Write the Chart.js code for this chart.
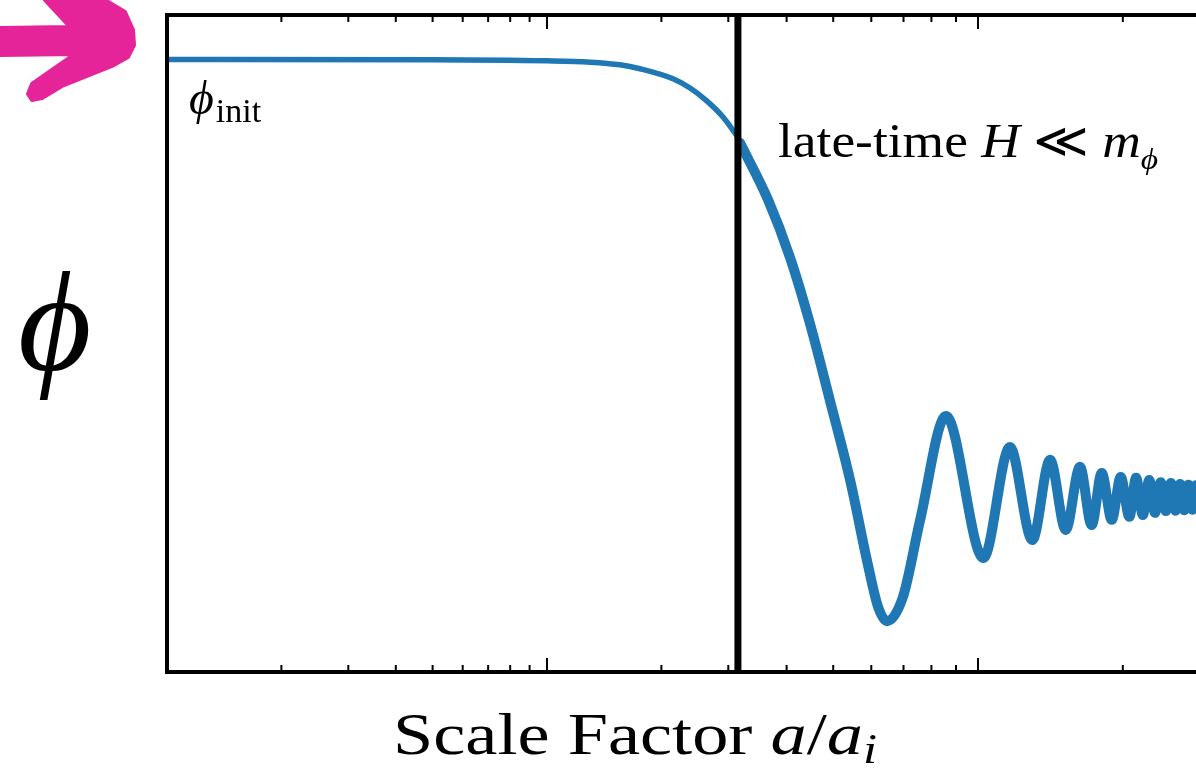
<!DOCTYPE html>
<html>
<head>
<meta charset="utf-8">
<title>Campo escalar vs factor de escala</title>
<script src="https://cdn.jsdelivr.net/npm/chart.js@4.4.1/dist/chart.umd.min.js"></script>
<style>
  html, body { margin: 0; padding: 0; background: #fff; overflow: hidden; }
  #wrap { position: relative; width: 1220px; height: 780px; }
  .lbl {
    position: absolute;
    font-family: "Liberation Serif", "DejaVu Serif", serif;
    color: #000;
    white-space: nowrap;
    line-height: 1;
    transform-origin: 0 0;
  }
  .lbl sub { vertical-align: baseline; position: relative; }
  #yTitle { left: 18px; top: 251px; font-size: 142px; }
  #phiInit { left: 189px; top: 74px; font-size: 48px; }
  #phiInit sub { font-size: 34px; top: 8px; margin-left: 2px; }
  #lateTime { left: 778px; top: 117px; font-size: 48px; }
  #lateTime sub { font-size: 30px; top: 12px; }
  #xTitle { left: 393px; top: 704px; font-size: 60px; }
  #xTitle sub { font-size: 42px; top: 9px; }
</style>
</head>
<body>
<div id="wrap">
  <canvas id="phiChart" width="1220" height="780"></canvas>
  <div class="lbl" id="yTitle"><i>ϕ</i></div>
  <div class="lbl" id="phiInit"><i>ϕ</i><sub>init</sub></div>
  <div class="lbl" id="lateTime">late-time <i>H</i> ≪ <i>m</i><sub><i>ϕ</i></sub></div>
  <div class="lbl" id="xTitle">Scale Factor <i>a</i>/<i>a</i><sub><i>i</i></sub></div>
</div>
<script>
// Panel izquierdo: meseta en phi_init y caida
const leftA   = [1, 5, 10, 12.98, 15.56, 17.57, 21.46, 23.79, 26.37, 29.05, 31.62];
const leftPhi = [1.000, 0.9995, 0.997, 0.994, 0.988, 0.979, 0.956, 0.935, 0.905, 0.869, 0.826];

// Panel derecho: caida y oscilaciones amortiguadas
const rightA = [32.0, 36.6, 40.7, 44.8, 49.2, 54.2, 59.1, 62.0, 64.7, 69.8, 75.8,
                85.8, 102.6, 116.5, 129.7, 141.2, 152.2, 162.9, 172.3, 180.8, 189.7,
                198.0, 206.4, 213.1, 220.1, 227.0, 233.3, 239.8, 245.8, 251.8, 257.5,
                263.1, 268.5, 273.8, 279.0, 284.0, 289.0, 294.0, 299.0];
const rightPhi = [0.810, 0.680, 0.547, 0.395, 0.223, 0.041, -0.155, -0.249, -0.281, -0.226, -0.050,
                  0.187, -0.137, 0.116, -0.096, 0.087, -0.073, 0.071, -0.062, 0.057, -0.050,
                  0.048, -0.043, 0.046, -0.039, 0.041, -0.034, 0.036, -0.030, 0.034, -0.029,
                  0.032, -0.028, 0.030, -0.027, 0.029, -0.027, 0.028, -0.026];

// Marcas del eje x (cada panel tiene su propia escala)
const leftMinorTicks  = [2, 3, 4, 5, 6, 7, 8, 9, 20, 30];
const leftMajorTicks  = [10];
const rightMinorTicks = [40, 50, 60, 70, 80, 90, 200];
const rightMajorTicks = [100];

// Linea vertical de la transicion
const transitionA = 31.8;

const curveColor = '#1f77b4';

function toPoints(xs, ys) {
    return xs.map((x, i) => ({ x: x, y: ys[i] }));
}

function drawTicks(ctx, scale, values, len, area) {
    values.forEach(v => {
        const x = scale.getPixelForValue(v);
        if (x < area.left || x > area.right) return;
        ctx.moveTo(x, area.bottom);
        ctx.lineTo(x, area.bottom - len);
        ctx.moveTo(x, area.top);
        ctx.lineTo(x, area.top + len);
    });
}

// Marco, marcas, linea vertical y flecha
const framePlugin = {
    id: 'framePlugin',
    afterDatasetsDraw(chart) {
        const ctx = chart.ctx;
        const area = chart.chartArea;
        const x1 = chart.scales.x1;
        const x2 = chart.scales.x2;
        ctx.save();

        ctx.strokeStyle = '#000';
        ctx.lineWidth = 2;
        ctx.beginPath();
        drawTicks(ctx, x1, leftMinorTicks, 7, area);
        drawTicks(ctx, x2, rightMinorTicks, 7, area);
        ctx.stroke();
        ctx.beginPath();
        drawTicks(ctx, x1, leftMajorTicks, 14, area);
        drawTicks(ctx, x2, rightMajorTicks, 14, area);
        ctx.stroke();

        ctx.lineWidth = 4;
        ctx.strokeRect(area.left, area.top, area.right - area.left, area.bottom - area.top);

        const xv = x1.getPixelForValue(transitionA);
        ctx.lineWidth = 7;
        ctx.beginPath();
        ctx.moveTo(xv, area.top);
        ctx.lineTo(xv, area.bottom);
        ctx.stroke();

        // flecha rosa (anotacion a mano)
        const arrow = [[0, 28], [70, 27], [45, 0], [105, 0], [125, 12], [133, 30], [134, 45],
                       [128, 57], [112, 66], [62, 86], [42, 98], [32, 100], [28, 94], [32, 84],
                       [75, 54], [0, 55]];
        ctx.fillStyle = '#e6249a';
        ctx.strokeStyle = '#e6249a';
        ctx.lineJoin = 'round';
        ctx.lineWidth = 4;
        ctx.beginPath();
        arrow.forEach((p, i) => i === 0 ? ctx.moveTo(p[0], p[1]) : ctx.lineTo(p[0], p[1]));
        ctx.closePath();
        ctx.fill();
        ctx.stroke();

        ctx.restore();
    }
};

function initChart() {
    const ctx = document.getElementById('phiChart');
    new Chart(ctx, {
        type: 'line',
        data: {
            datasets: [{
                label: 'izquierda',
                data: toPoints(leftA, leftPhi),
                xAxisID: 'x1',
                yAxisID: 'y',
                borderColor: curveColor,
                borderWidth: 5.5,
                pointRadius: 0,
                cubicInterpolationMode: 'monotone',
                borderJoinStyle: 'round',
                borderCapStyle: 'round',
                fill: false
            }, {
                label: 'derecha',
                data: toPoints(rightA, rightPhi),
                xAxisID: 'x2',
                yAxisID: 'y',
                borderColor: curveColor,
                borderWidth: 10,
                pointRadius: 0,
                cubicInterpolationMode: 'monotone',
                borderJoinStyle: 'round',
                borderCapStyle: 'round',
                fill: false
            }]
        },
        options: {
            responsive: false,
            animation: false,
            events: [],
            layout: { padding: { left: 167, top: 15, right: 10, bottom: 108 } },
            plugins: {
                legend: { display: false },
                tooltip: { enabled: false }
            },
            scales: {
                x1: { axis: 'x', type: 'logarithmic', min: 1, max: 555.6, display: false },
                x2: { axis: 'x', type: 'logarithmic', min: 2.06, max: 303.6, display: false },
                y: { type: 'linear', min: -0.397, max: 1.1015, display: false }
            }
        },
        plugins: [framePlugin]
    });
}

// Ajustar el ancho de los titulos al de la figura original
function fitWidth(id, target) {
    const el = document.getElementById(id);
    const w = el.getBoundingClientRect().width;
    if (w > 0) el.style.transform = 'scaleX(' + (target / w) + ')';
}

initChart();
fitWidth('xTitle', 484);
fitWidth('lateTime', 380);
</script>
</body>
</html>
